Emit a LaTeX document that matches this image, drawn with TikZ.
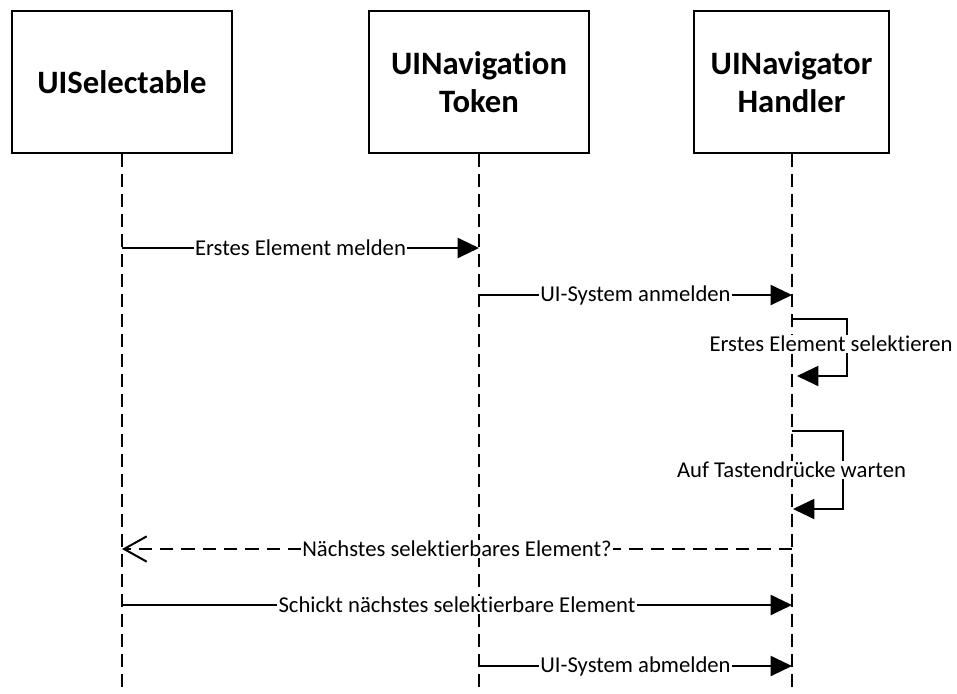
\documentclass[tikz,border=0pt]{standalone}
\usepackage{fontspec}
\setmainfont{Carlito}[Ligatures={NoCommon}]
\usetikzlibrary{arrows.meta}
\begin{document}
\begin{tikzpicture}[x=0.75pt,y=-0.75pt,
  actor/.style={draw,line width=1.5pt,minimum height=107pt,align=center,
    font=\fontsize{24.5}{28.5}\selectfont\bfseries,inner sep=0pt},
  lifeline/.style={line width=1.5pt,dash pattern=on 9.75pt off 5.25pt},
  msg/.style={line width=1.5pt,-{Triangle[length=16pt,width=15pt]}},
  reply/.style={line width=1.5pt,dash pattern=on 10pt off 6pt,-{Straight Barb[length=17pt,width=19pt,line width=1.5pt]}},
  lbl/.style={fill=white,inner sep=1pt,font=\fontsize{17}{19}\selectfont}]
\useasboundingbox (0,0) rectangle (957,693);
\node[actor,minimum width=165pt] (A) at (122,82) {UISelectable};
\node[actor,minimum width=165pt] (B) at (479,82) {UINavigation\\Token};
\node[actor,minimum width=146pt] (C) at (791.5,82) {UINavigator\\Handler};
\coordinate (Aend) at (122,693);
\coordinate (Bend) at (479,693);
\coordinate (Cend) at (792,693);
\draw[lifeline] (A.south) -- (Aend);
\draw[lifeline] (B.south) -- (Bend);
\draw[lifeline] (C.south -| Cend) -- (Cend);
% message 1
\coordinate (a1) at (122,248); \coordinate (b1) at (479,248);
\draw[msg] (a1) -- node[lbl]{Erstes Element melden} (b1);
% message 2
\coordinate (b2) at (479,295); \coordinate (c2) at (792,295);
\draw[msg] (b2) -- node[lbl]{UI-System anmelden} (c2);
% self loop 1
\coordinate (c3) at (792,319); \coordinate (r3) at (847,319); \coordinate (c3e) at (797,376);
\draw[msg] (c3) -- (r3) |- (c3e);
\node[lbl] (l3) at (831,344) {Erstes Element selektieren};
% self loop 2
\coordinate (c4) at (792,431); \coordinate (r4) at (843,431); \coordinate (c4e) at (793,509);
\draw[msg] (c4) -- (r4) |- (c4e);
\node[lbl] (l4) at (791.5,470) {Auf Tastendrücke warten};
% reply
\coordinate (c5) at (792,549); \coordinate (a5) at (122,549);
\draw[reply] (c5) -- node[lbl]{Nächstes selektierbares Element?} (a5);
% message 6
\coordinate (a6) at (122,605); \coordinate (c6) at (792,605);
\draw[msg] (a6) -- node[lbl]{Schickt nächstes selektierbare Element} (c6);
% message 7
\coordinate (b7) at (479,666); \coordinate (c7) at (792,666);
\draw[msg] (b7) -- node[lbl]{UI-System abmelden} (c7);
\end{tikzpicture}
\end{document}
